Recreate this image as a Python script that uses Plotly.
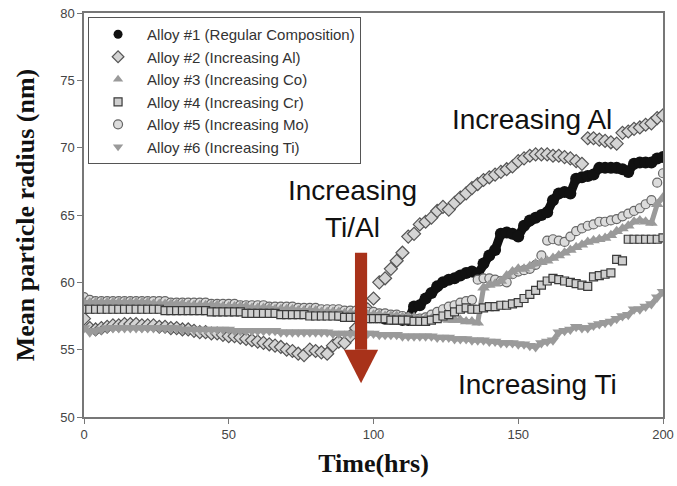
import plotly.graph_objects as go

time_hrs = [0, 2, 4, 6, 8, 10, 12, 14, 16, 18,
            20, 22, 24, 26, 28, 30, 32, 34, 36, 38,
            40, 42, 44, 46, 48, 50, 52, 54, 56, 58,
            60, 62, 64, 66, 68, 70, 72, 74, 76, 78,
            80, 82, 84, 86, 88, 90, 92, 94, 96, 98,
            100, 102, 104, 106, 108, 110, 112, 114, 116, 118,
            120, 122, 124, 126, 128, 130, 132, 134, 136, 138,
            140, 142, 144, 146, 148, 150, 152, 154, 156, 158,
            160, 162, 164, 166, 168, 170, 172, 174, 176, 178,
            180, 182, 184, 186, 188, 190, 192, 194, 196, 198,
            200]

alloy1 = [58.4, 58.3, 58.3, 58.3, 58.3, 58.3, 58.3, 58.3, 58.3, 58.3,
          58.3, 58.3, 58.3, 58.3, 58.3, 58.2, 58.2, 58.2, 58.2, 58.2,
          58.2, 58.2, 58.1, 58.1, 58.1, 58.1, 58.1, 58.0, 58.0, 58.0,
          58.0, 58.0, 57.9, 57.9, 57.9, 57.9, 57.8, 57.8, 57.8, 57.8,
          57.8, 57.7, 57.7, 57.7, 57.6, 57.6, 57.6, 57.5, 57.5, 57.5,
          57.4, 57.4, 57.3, 57.3, 57.3, 57.2, 57.2, 58.2, 58.3, 58.8,
          59.2, 59.7, 60.0, 60.2, 60.3, 60.5, 60.7, 60.8, 60.6, 61.4,
          62.0, 62.4, 63.6, 63.7, 63.6, 63.4, 64.2, 64.6, 64.8, 65.0,
          65.2, 66.1, 66.6, 66.7, 66.6, 67.7, 67.8, 67.9, 68.0, 68.5,
          68.5, 68.5, 68.5, 68.4, 68.2, 68.8, 68.9, 68.9, 68.9, 69.2,
          69.3]

alloy2 = [57.3, 56.6, 56.5, 56.6, 56.7, 56.8, 56.8, 56.9, 56.9, 56.9,
          56.8, 56.8, 56.8, 56.7, 56.7, 56.6, 56.6, 56.5, 56.5, 56.4,
          56.3, 56.3, 56.2, 56.2, 56.1, 56.0, 56.0, 55.9, 55.8, 55.7,
          55.6, 55.5, 55.4, 55.3, 55.2, 55.0, 54.9, 54.7, 54.6, 55.0,
          54.9, 54.8, 54.7, 55.3, 55.6, 55.5, 56.0, 56.6, 57.3, 58.0,
          58.8, 60.0, 60.3, 61.0, 61.6, 62.2, 63.4, 63.6, 64.3, 64.5,
          64.8, 65.3, 65.6, 65.4, 65.9, 66.3, 66.6, 67.0, 67.3, 67.6,
          67.8, 68.0, 68.2, 68.4, 68.6, 69.0, 69.2, 69.4, 69.5, 69.5,
          69.5, 69.4, 69.4, 69.3, 69.2, 69.0, 68.8, 70.7, 70.7, 70.6,
          70.5, 70.4, 70.3, 71.1, 71.2, 71.4, 71.5, 71.7, 71.8, 72.2,
          72.4]

alloy3 = [58.5, 58.5, 58.5, 58.5, 58.5, 58.5, 58.5, 58.5, 58.5, 58.5,
          58.5, 58.5, 58.4, 58.4, 58.4, 58.4, 58.4, 58.4, 58.3, 58.3,
          58.3, 58.3, 58.3, 58.3, 58.2, 58.2, 58.2, 58.2, 58.2, 58.1,
          58.1, 58.1, 58.1, 58.0, 58.0, 58.0, 58.0, 57.9, 57.9, 57.9,
          57.9, 57.8, 57.8, 57.8, 57.8, 57.7, 57.7, 57.7, 57.6, 57.6,
          57.6, 57.6, 57.5, 57.5, 57.5, 57.4, 57.4, 57.4, 57.3, 57.3,
          57.3, 57.3, 57.3, 57.2, 57.2, 57.2, 57.1, 57.1, 57.0, 59.6,
          59.8, 59.9, 60.1, 60.5, 60.8, 61.0, 61.0, 61.2, 61.4, 61.5,
          61.6, 61.8, 62.0, 62.2, 62.4, 62.6, 62.8, 63.0, 63.1, 63.2,
          63.3, 63.5, 63.8, 64.0, 64.2, 64.5, 64.6, 64.5, 64.4, 65.8,
          66.3]

alloy4 = [58.0, 58.0, 58.0, 58.0, 58.0, 58.0, 58.0, 58.0, 58.0, 58.0,
          58.0, 58.0, 58.0, 58.0, 57.9, 57.9, 57.9, 57.9, 57.9, 57.9,
          57.9, 57.9, 57.8, 57.8, 57.8, 57.8, 57.8, 57.8, 57.7, 57.7,
          57.7, 57.7, 57.7, 57.7, 57.6, 57.6, 57.6, 57.6, 57.6, 57.5,
          57.5, 57.5, 57.5, 57.5, 57.5, 57.4, 57.4, 57.4, 57.4, 57.3,
          57.3, 57.3, 57.3, 57.2, 57.2, 57.2, 57.2, 57.1, 57.1, 57.1,
          57.2, 57.3, 57.5, 57.6, 57.8, 58.0, 58.1, 58.0, 58.0, 58.1,
          58.2, 58.2, 58.3, 58.3, 58.4, 58.5, 58.8, 59.1, 59.4, 59.8,
          60.1, 60.3, 60.2, 60.1, 60.0, 59.9, 59.8, 59.7, 60.4, 60.5,
          60.6, 60.7, 61.7, 61.6, 63.2, 63.2, 63.2, 63.2, 63.2, 63.2,
          63.3]

alloy5 = [58.9, 58.7, 58.6, 58.6, 58.6, 58.6, 58.6, 58.6, 58.6, 58.6,
          58.6, 58.6, 58.6, 58.6, 58.6, 58.5, 58.5, 58.5, 58.5, 58.5,
          58.5, 58.5, 58.4, 58.4, 58.4, 58.4, 58.4, 58.3, 58.3, 58.3,
          58.3, 58.3, 58.2, 58.2, 58.2, 58.2, 58.2, 58.1, 58.1, 58.1,
          58.1, 58.0, 58.0, 58.0, 58.0, 57.9, 57.9, 57.9, 57.8, 57.8,
          57.8, 57.7, 57.7, 57.6, 57.6, 57.5, 57.4, 57.3, 57.3, 57.4,
          57.6, 57.8, 58.0, 58.2, 58.3, 58.5, 58.6, 58.7, 60.2, 60.3,
          60.3, 60.2, 60.1, 60.0, 60.6, 60.8, 60.9, 61.0, 61.3, 62.0,
          63.1, 63.2, 63.1, 63.0, 63.4, 63.8, 64.0, 64.2, 64.3, 64.5,
          64.5, 64.6, 64.7, 64.9, 65.1, 65.3, 65.5, 65.8, 66.1, 67.4,
          68.1]

alloy6 = [56.6, 56.3, 56.4, 56.5, 56.6, 56.6, 56.6, 56.6, 56.6, 56.6,
          56.6, 56.6, 56.6, 56.6, 56.6, 56.6, 56.6, 56.5, 56.5, 56.5,
          56.5, 56.5, 56.5, 56.5, 56.5, 56.5, 56.4, 56.4, 56.4, 56.4,
          56.4, 56.4, 56.4, 56.4, 56.3, 56.3, 56.3, 56.3, 56.3, 56.3,
          56.3, 56.3, 56.3, 56.2, 56.2, 56.2, 56.2, 56.2, 56.2, 56.2,
          56.2, 56.1, 56.1, 56.1, 56.1, 56.0, 56.0, 56.0, 56.0, 56.0,
          56.0, 55.9, 55.9, 55.9, 55.8, 55.8, 55.8, 55.7, 55.7, 55.7,
          55.6, 55.6, 55.5, 55.5, 55.5, 55.4, 55.4, 55.3, 55.2, 55.5,
          55.6, 55.7, 56.3, 56.4, 56.5, 56.7, 56.6, 56.6, 56.8, 56.9,
          57.0, 57.1, 57.3, 57.5, 57.6, 58.0, 58.0, 58.2, 58.4, 58.9,
          59.3]

series_names = ["Alloy #1 (Regular Composition)", "Alloy #2 (Increasing Al)",
                "Alloy #3 (Increasing Co)", "Alloy #4 (Increasing Cr)",
                "Alloy #5 (Increasing Mo)", "Alloy #6 (Increasing Ti)"]
x_ticks = [0, 50, 100, 150, 200]
y_ticks = [50, 55, 60, 65, 70, 75, 80]

styles = [
    dict(symbol="circle", size=12, color="#111111", line=dict(width=0), lw=9),
    dict(symbol="diamond", size=10, color="#d4d4d4", line=dict(width=1.2, color="#555555"), lw=0),
    dict(symbol="triangle-up", size=11, color="#9a9a9a", line=dict(width=0), lw=5),
    dict(symbol="square", size=8, color="#cfcfcf", line=dict(width=1.2, color="#3a3a3a"), lw=0),
    dict(symbol="circle", size=9, color="#dcdcdc", line=dict(width=1.2, color="#666666"), lw=0),
    dict(symbol="triangle-down", size=11, color="#9a9a9a", line=dict(width=0), lw=5),
]
data_series = [alloy1, alloy2, alloy3, alloy4, alloy5, alloy6]
draw_order = [0, 1, 4, 2, 3, 5]

fig = go.Figure()
for i in draw_order:
    st = styles[i]
    ys = data_series[i]
    if st["lw"] > 0:
        fig.add_trace(go.Scatter(x=time_hrs, y=ys, mode="lines", showlegend=False,
                                 line=dict(color=st["color"], width=st["lw"]), hoverinfo="skip"))
    fig.add_trace(go.Scatter(
        x=time_hrs, y=ys, name=series_names[i], mode="markers", showlegend=False,
        marker=dict(symbol=st["symbol"], size=st["size"], color=st["color"], line=st["line"]),
    ))
legend_sizes = [9, 9, 9, 8, 9, 9]
for i in range(6):
    st = styles[i]
    fig.add_trace(go.Scatter(
        x=[None], y=[None], name=series_names[i], mode="markers", showlegend=True,
        marker=dict(symbol=st["symbol"], size=legend_sizes[i], color=st["color"], line=st["line"]),
    ))

fig.update_layout(
    width=677, height=486,
    margin=dict(l=84, r=14, t=13, b=69, autoexpand=False),
    paper_bgcolor="white", plot_bgcolor="white",
    showlegend=True,
    legend=dict(x=0.007, y=0.99, xanchor="left", yanchor="top",
                bordercolor="#555555", borderwidth=1, bgcolor="white",
                font=dict(family="Liberation Sans", size=15, color="#333333"),
                tracegroupgap=0, itemwidth=48),
    font=dict(family="Liberation Sans", color="#333333"),
)
axis_common = dict(showline=True, linecolor="#777777", linewidth=1.5, mirror=True,
                   ticks="outside", ticklen=5, tickcolor="#777777", showgrid=False,
                   zeroline=False, automargin=False,
                   tickfont=dict(family="Liberation Sans", size=13, color="#444444"))
fig.update_xaxes(range=[0, 200], tickvals=x_ticks,
                 title=dict(text="Time(hrs)", font=dict(family="Liberation Serif", size=26, color="#111111", weight="bold"), standoff=12),
                 **axis_common)
fig.update_yaxes(range=[50, 80], tickvals=y_ticks,
                 title=dict(text="Mean particle radius (nm)", font=dict(family="Liberation Serif", size=26, color="#111111", weight="bold"), standoff=18),
                 **axis_common)

ann_font = dict(family="Liberation Sans", size=28, color="#111111")
fig.add_annotation(x=154.6, y=72.1, text="Increasing Al", showarrow=False, font=ann_font)
fig.add_annotation(x=92.6, y=66.8, text="Increasing", showarrow=False, font=ann_font)
fig.add_annotation(x=92.6, y=64.1, text="Ti/Al", showarrow=False, font=ann_font)
fig.add_annotation(x=156.8, y=52.4, text="Increasing Ti", showarrow=False, font=ann_font)

arrow_color = "#a8321a"
fig.add_shape(type="rect", x0=93.6, x1=97.8, y0=55.0, y1=62.2, fillcolor=arrow_color,
              line=dict(width=0), layer="above")
fig.add_shape(type="path", path="M 89.8 55.0 L 101.6 55.0 L 95.7 52.5 Z", fillcolor=arrow_color,
              line=dict(width=0), layer="above")

fig.write_html("out.html", config={"displayModeBar": False},
               post_script="document.body.style.margin='0';document.body.style.overflow='hidden';")
